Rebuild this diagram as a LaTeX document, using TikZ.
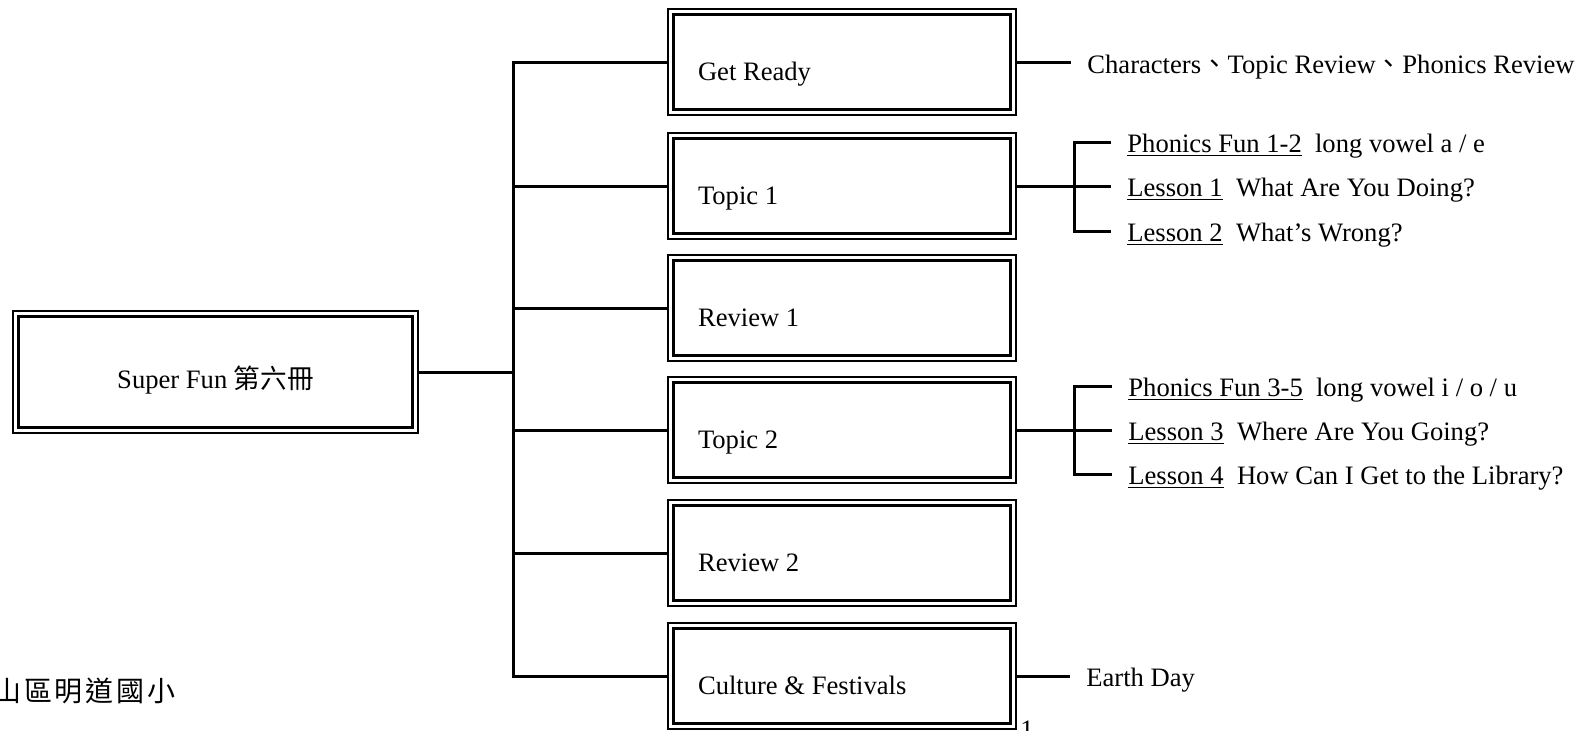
\documentclass[tikz,border=0pt]{standalone}
\usepackage{fontspec}
\setmainfont{Liberation Serif}
\newfontfamily\cjk{Noto Sans CJK TC}
\newfontfamily\cjkwide{Noto Sans CJK TC}[LetterSpace=10]
\usetikzlibrary{positioning}

\begin{document}
\begin{tikzpicture}[
    x=0.5pt, y=-0.5pt,
    font=\fontsize{13.3}{16}\selectfont,
    box/.style={draw, line width=0.6pt, inner xsep=15pt, inner ysep=0pt, text width=144pt, align=left, text height=35.5pt, text depth=17.5pt, execute at begin node={\spaceskip=0pt\xspaceskip=0pt}},
    mainbox/.style={draw, line width=0.6pt, inner sep=0pt, minimum width=202.5pt, text height=38.5pt, text depth=22.5pt},
    innerline/.style={line width=1.3pt},
    link/.style={line width=1.5pt},
    leaf/.style={inner xsep=8pt, inner ysep=0pt, text height=12pt, text depth=2pt, anchor=base west}
  ]
\useasboundingbox (0,0) rectangle (1580,730);
\clip (0,0) rectangle (1580,730);

% Nodes
\node[mainbox] (main) at (215.5,372) {Super Fun {\cjk 第六冊}};
\node[box] (ready) at (842,62) {Get Ready};
\node[box] (topic1) at (842,186) {Topic 1};
\node[box] (review1) at (842,308) {Review 1};
\node[box] (topic2) at (842,430) {Topic 2};
\node[box] (review2) at (842,553) {Review 2};
\node[box] (culture) at (842,676) {Culture \& Festivals};

\foreach \n in {main,ready,topic1,review1,topic2,review2,culture}
  \draw[innerline] ([shift={(3pt,-3pt)}]\n.north west) rectangle ([shift={(-3pt,3pt)}]\n.south east);

\node[leaf] (chars) at (1071,73) {Characters{\cjk 、}Topic Review{\cjk 、}Phonics Review};
\node[leaf] (phon12) at (1111,152) {\underline{Phonics Fun 1-2}\enspace long vowel a / e};
\node[leaf] (les1) at (1111,196) {\underline{Lesson 1}\enspace What Are You Doing?};
\node[leaf] (les2) at (1111,241) {\underline{Lesson 2}\enspace What's Wrong?};
\node[leaf] (phon35) at (1112,396) {\underline{Phonics Fun 3-5}\enspace long vowel i / o / u};
\node[leaf] (les3) at (1112,440) {\underline{Lesson 3}\enspace Where Are You Going?};
\node[leaf] (les4) at (1112,484) {\underline{Lesson 4}\enspace How Can I Get to the Library?};
\node[leaf] (earth) at (1070,686) {Earth Day};

\node[anchor=base west, inner sep=0pt, font=\cjkwide\fontsize{14}{16}\selectfont] (school) at (-7,701) {山區明道國小};
\node[anchor=base west, inner sep=0pt] (pagenum) at (1020,738) {1};

\coordinate (trunk) at (513,372);
\coordinate (fork1) at (1074,186);
\coordinate (fork2) at (1074,430);

% Lines
\draw[link] (main.east) -- (trunk);
\draw[link] (ready.west) -| (trunk) |- (culture.west);
\foreach \n in {topic1,review1,topic2,review2}
  \draw[link] (trunk |- \n.west) -- (\n.west);

\draw[link] (ready.east) -- (ready.east -| chars.west);
\draw[link] (topic1.east) -- (les1.west);
\draw[link] (phon12.west) -| (fork1) |- (les2.west);
\draw[link] (topic2.east) -- (les3.west);
\draw[link] (phon35.west) -| (fork2) |- (les4.west);
\draw[link] (culture.east) -- (earth.west);

\end{tikzpicture}
\end{document}
